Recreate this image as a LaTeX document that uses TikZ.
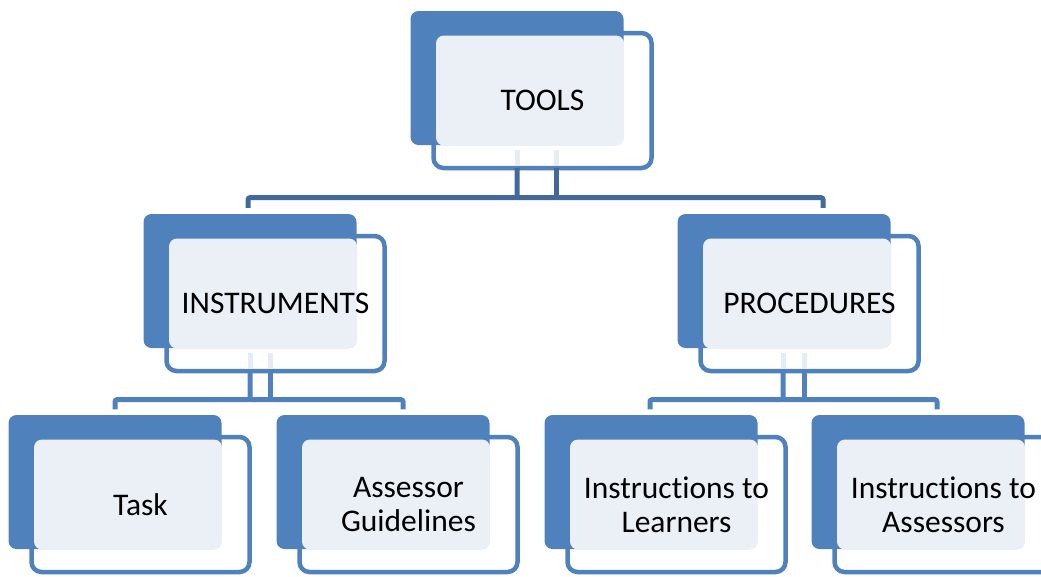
\documentclass[tikz,border=0pt]{standalone}
\usepackage{fontspec}
\setmainfont[Ligatures=NoCommon]{Carlito}
\usetikzlibrary{calc}
\definecolor{smartblue}{HTML}{4F81BD}
\definecolor{darklink}{HTML}{41699B}
\definecolor{paleblue}{HTML}{EBF0F7}
\definecolor{ghostblue}{HTML}{E6ECF4}
\tikzstyle{frame}=[draw=smartblue,fill=white,line width=4.5pt,rounded corners=10pt]
\tikzstyle{block}=[fill=smartblue,rounded corners=8pt]
\tikzstyle{pane}=[fill=paleblue,rounded corners=8pt]
\tikzstyle{label box}=[inner sep=0pt,minimum width=218pt,minimum height=135pt,
                align=center,font=\fontsize{31.5}{34}\selectfont]
\tikzstyle{upper link}=[draw=darklink,line width=5pt,rounded corners=2pt]
\tikzstyle{lower link}=[draw=smartblue,line width=5pt,rounded corners=2pt]
\tikzstyle{ghost link}=[draw=ghostblue,line width=5pt]
% one SmartArt tile: outline, blue block, pale pane, text
\newcommand{\tierbox}[3]{%
  \coordinate (#1-c) at (#2);
  \draw[frame] ($(#1-c)+(-109,-67.5)$) rectangle ($(#1-c)+(109,67.5)$);
  \path[block] ($(#1-c)+(-132,-89.5)$) rectangle ($(#1-c)+(81,44.5)$);
  \path[pane] ($(#1-c)+(-106.5,-65)$) rectangle ($(#1-c)+(81.5,45)$);
  \node[label box] (#1) at (#1-c) {#3};
}

\begin{document}
\begin{tikzpicture}[x=1pt,y=-1pt]
\useasboundingbox (0,0) rectangle (1041,576);

\tierbox{tools}{542.5,100.5}{TOOLS}
\tierbox{inst}{275.5,303.5}{INSTRUMENTS}
\tierbox{proc}{809.5,303.5}{PROCEDURES}
\tierbox{task}{140.5,504.5}{Task}
\tierbox{guide}{408.5,504.5}{Assessor\\Guidelines}
\tierbox{learn}{676.5,504.5}{Instructions to\\Learners}
\tierbox{asses}{943.5,504.5}{Instructions to\\Assessors}

% top level
\draw[ghost link] ($(tools.south)+(-25.5,-18)$) -- ($(tools.south)+(-25.5,-2)$);
\draw[ghost link] ($(tools.south)+(13.5,-18)$) -- ($(tools.south)+(13.5,-2)$);
\draw[upper link] ($(inst.north)+(-27.5,-28)$) |- ($(tools.south)+(-25.5,29.5)$) -- ($(tools.south)+(-25.5,0)$);
\draw[upper link] ($(proc.north)+(13.5,-28)$) |- ($(tools.south)+(-25.5,29.5)$);
\draw[upper link] ($(tools.south)+(13.5,29.5)$) -- ($(tools.south)+(13.5,0)$);

% instruments
\draw[ghost link] ($(inst.south)+(-25.5,-18)$) -- ($(inst.south)+(-25.5,-2)$);
\draw[ghost link] ($(inst.south)+(-5.5,-18)$) -- ($(inst.south)+(-5.5,-2)$);
\draw[lower link] ($(task.north)+(-25.5,-27.5)$) |- ($(inst.south)+(-25.5,28.5)$) -- ($(inst.south)+(-25.5,0)$);
\draw[lower link] ($(guide.north)+(-5.5,-27.5)$) |- ($(inst.south)+(-25.5,28.5)$);
\draw[lower link] ($(inst.south)+(-5.5,28.5)$) -- ($(inst.south)+(-5.5,0)$);

% procedures
\draw[ghost link] ($(proc.south)+(-26.5,-18)$) -- ($(proc.south)+(-26.5,-2)$);
\draw[ghost link] ($(proc.south)+(-5.5,-18)$) -- ($(proc.south)+(-5.5,-2)$);
\draw[lower link] ($(learn.north)+(-26.5,-27.5)$) |- ($(proc.south)+(-26.5,28.5)$) -- ($(proc.south)+(-26.5,0)$);
\draw[lower link] ($(asses.north)+(-6.5,-27.5)$) |- ($(proc.south)+(-26.5,28.5)$);
\draw[lower link] ($(proc.south)+(-5.5,28.5)$) -- ($(proc.south)+(-5.5,0)$);
\end{tikzpicture}
\end{document}
